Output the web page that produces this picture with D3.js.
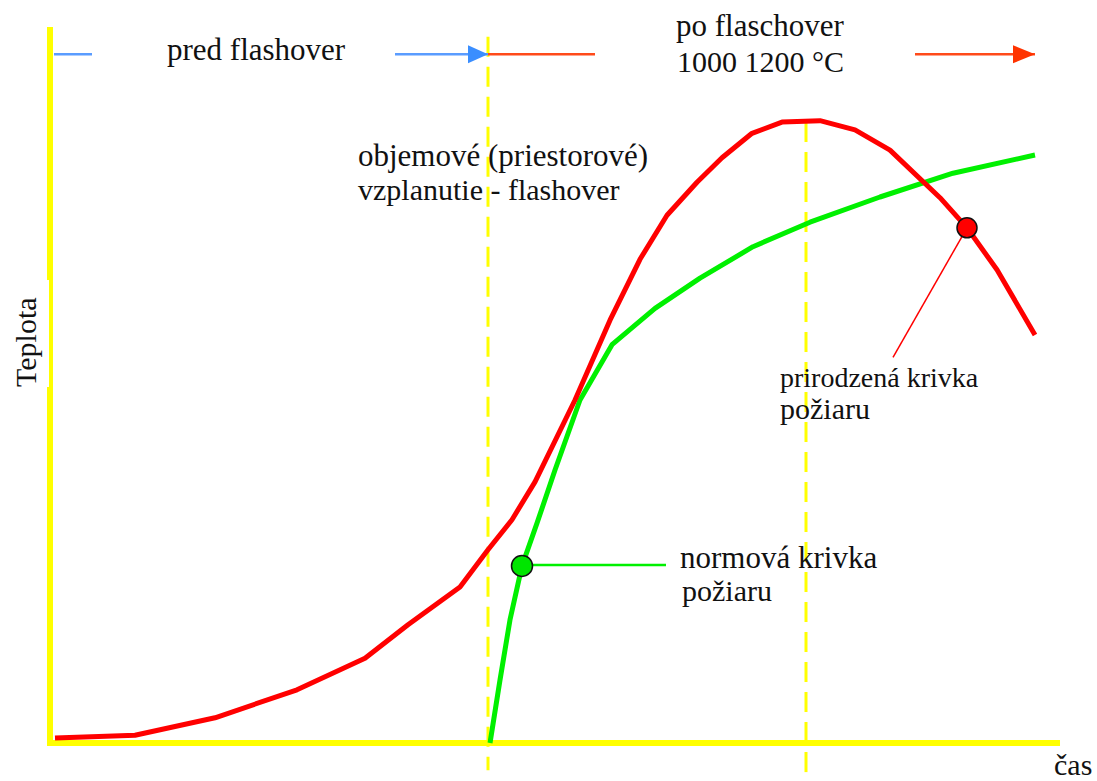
<!DOCTYPE html>
<html>
<head>
<meta charset="utf-8">
<script src="https://cdn.jsdelivr.net/npm/d3@7"></script>
<style>
  html, body { margin: 0; padding: 0; background: #fff; }
  svg { display: block; }
</style>
</head>
<body>
<svg id="chart" width="1097" height="781"></svg>
<script>
// natural fire curve (red) - time / temperature, arbitrary units
const timeRed = [0.5, 8.5, 16.5, 24.7, 31.5, 35.8, 41, 43.8, 46.2, 48.5, 52.5, 56, 59, 61.7, 64.7, 67.2, 70.2, 73.2, 77, 80.5, 84, 89, 91.7, 94.7, 98.5];
const tempRed = [0.7, 1.1, 3.6, 7.6, 12.1, 16.9, 22.3, 27.6, 31.9, 37.3, 49, 60.4, 69.1, 75.4, 80.1, 83.6, 87.1, 88.7, 88.9, 87.6, 84.7, 77.9, 73.6, 67.6, 58.3];

// standard fire curve (green)
const timeGreen = [44, 45, 46, 47.2, 48.7, 50.5, 53, 56.2, 60.5, 65, 70.3, 76, 83, 90.3, 98.5];
const tempGreen = [0, 9, 17.6, 25.3, 31.4, 39, 49, 56.9, 62.1, 66.4, 70.9, 74.4, 78, 81.4, 84];

// vertical markers: flashover and peak of the natural curve
const flashoverTime = 43.8;
const peakTime = 75.6;

// labels
const preLabel = 'pred flashover';
const postLabel = ['po flaschover', '1000 1200 °C'];
const flashoverLabel = ['objemové (priestorové)', 'vzplanutie - flashover'];
const redLabel = ['prirodzená krivka', 'požiaru'];
const greenLabel = ['normová krivka', 'požiaru'];
const yLabel = 'Teplota';
const xLabel = 'čas';

const svg = d3.select('#chart');

const x = d3.scaleLinear().domain([0, 100]).range([50, 1050]);
const y = d3.scaleLinear().domain([0, 100]).range([743, 43]);

const yellow = '#FFFF00';

// axes
svg.append('line')
  .attr('x1', x(0)).attr('x2', x(0))
  .attr('y1', y(102.3)).attr('y2', y(-0.3))
  .attr('stroke', yellow).attr('stroke-width', 6);

svg.append('line')
  .attr('x1', x(-0.3)).attr('x2', x(101))
  .attr('y1', y(0)).attr('y2', y(0))
  .attr('stroke', yellow).attr('stroke-width', 6);

// dashed verticals
svg.append('line')
  .attr('x1', x(flashoverTime)).attr('x2', x(flashoverTime))
  .attr('y1', y(100.9)).attr('y2', y(-3.9))
  .attr('stroke', yellow).attr('stroke-width', 3)
  .attr('stroke-dasharray', '20,10');

svg.append('line')
  .attr('x1', x(peakTime)).attr('x2', x(peakTime))
  .attr('y1', y(88.7)).attr('y2', y(-4.6))
  .attr('stroke', yellow).attr('stroke-width', 3)
  .attr('stroke-dasharray', '20,10');

// arrow heads
const defs = svg.append('defs');
defs.append('marker')
  .attr('id', 'blueHead').attr('viewBox', '0 0 20 20')
  .attr('refX', 20).attr('refY', 10)
  .attr('markerWidth', 20).attr('markerHeight', 20)
  .attr('markerUnits', 'userSpaceOnUse').attr('orient', 'auto')
  .append('path').attr('d', 'M0,1 L20,10 L0,19 Z').attr('fill', '#3A8EFF');
defs.append('marker')
  .attr('id', 'redHead').attr('viewBox', '0 0 22 20')
  .attr('refX', 22).attr('refY', 10)
  .attr('markerWidth', 22).attr('markerHeight', 20)
  .attr('markerUnits', 'userSpaceOnUse').attr('orient', 'auto')
  .append('path').attr('d', 'M0,1 L22,10 L0,19 Z').attr('fill', '#FF3300');

const arrowY = y(98.4);
svg.append('line')
  .attr('x1', x(0.4)).attr('x2', x(4.2))
  .attr('y1', arrowY).attr('y2', arrowY)
  .attr('stroke', '#5A9CFF').attr('stroke-width', 2.5);
svg.append('line')
  .attr('x1', x(34.5)).attr('x2', x(flashoverTime))
  .attr('y1', arrowY).attr('y2', arrowY)
  .attr('stroke', '#5A9CFF').attr('stroke-width', 2.5)
  .attr('marker-end', 'url(#blueHead)');
svg.append('line')
  .attr('x1', x(flashoverTime)).attr('x2', x(54.5))
  .attr('y1', arrowY).attr('y2', arrowY)
  .attr('stroke', '#FF4A1A').attr('stroke-width', 2.5);
svg.append('line')
  .attr('x1', x(86.5)).attr('x2', x(98.5))
  .attr('y1', arrowY).attr('y2', arrowY)
  .attr('stroke', '#FF4A1A').attr('stroke-width', 2.5)
  .attr('marker-end', 'url(#redHead)');

// curves (the source is drawn as plain polylines)
const line = d3.line()
  .x(d => x(d[0]))
  .y(d => y(d[1]));

const redData = timeRed.map((t, i) => [t, tempRed[i]]);
const greenData = timeGreen.map((t, i) => [t, tempGreen[i]]);

svg.append('path')
  .datum(greenData)
  .attr('fill', 'none')
  .attr('stroke', '#00F000')
  .attr('stroke-width', 5)
  .attr('stroke-linejoin', 'round')
  .attr('d', line);

svg.append('path')
  .datum(redData)
  .attr('fill', 'none')
  .attr('stroke', '#FF0000')
  .attr('stroke-width', 5)
  .attr('stroke-linejoin', 'round')
  .attr('d', line);

// callouts
const gPt = greenData[3];
const rPt = redData[22];

svg.append('line')
  .attr('x1', x(gPt[0])).attr('x2', x(61.6))
  .attr('y1', y(gPt[1]) - 1).attr('y2', y(gPt[1]) - 1)
  .attr('stroke', '#00F000').attr('stroke-width', 2.5);

svg.append('line')
  .attr('x1', x(rPt[0])).attr('y1', y(rPt[1]))
  .attr('x2', x(84.3)).attr('y2', y(55.1))
  .attr('stroke', '#FF0000').attr('stroke-width', 1.5);

svg.append('circle')
  .attr('cx', x(gPt[0])).attr('cy', y(gPt[1]))
  .attr('r', 10.5)
  .attr('fill', '#00E600').attr('stroke', '#111').attr('stroke-width', 1.5);

svg.append('circle')
  .attr('cx', x(rPt[0])).attr('cy', y(rPt[1]))
  .attr('r', 10)
  .attr('fill', '#FF0000').attr('stroke', '#111').attr('stroke-width', 1.5);

// texts
function label(str, px, py, size, rot) {
  svg.append('text')
    .attr('transform', `translate(${px},${py})${rot ? ` rotate(${rot})` : ''}`)
    .style('font-family', 'Liberation Serif')
    .style('font-size', size + 'px')
    .attr('fill', '#111')
    .text(str);
}

// y axis thinned where the label sits
svg.append('rect')
  .attr('x', x(0) - 4).attr('y', 280)
  .attr('width', 3).attr('height', 107)
  .attr('fill', '#fff');

label(preLabel, 167, 60, 31);
label(postLabel[0], 676, 36, 31);
label(postLabel[1], 677, 72, 30);
label(flashoverLabel[0], 358, 166, 31);
label(flashoverLabel[1], 358, 200, 30);
label(redLabel[0], 780, 387, 28);
label(redLabel[1], 780, 419, 30);
label(greenLabel[0], 680, 568, 31);
label(greenLabel[1], 682, 601, 30);
label(yLabel, 36, 387, 30, -90);
label(xLabel, 1054, 775, 30);
</script>
</body>
</html>
